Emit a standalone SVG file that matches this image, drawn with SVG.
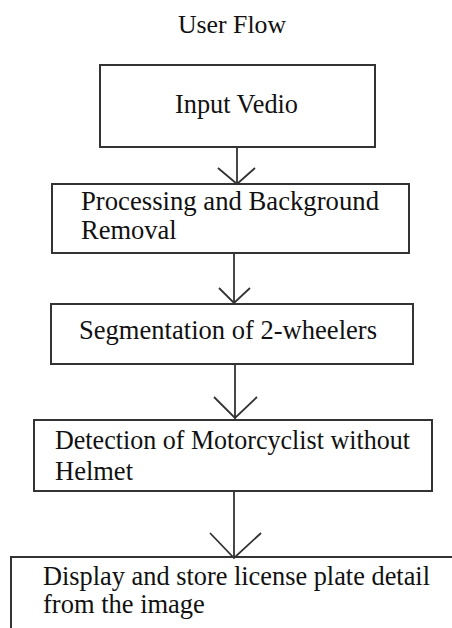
<svg xmlns="http://www.w3.org/2000/svg" width="452" height="628" viewBox="0 0 452 628">
<style>
.box{fill:#fff;stroke:#333;stroke-width:2}
.t{font-family:"Liberation Serif","Times New Roman",serif;font-size:26.5px;fill:#111}
.c{fill:none;stroke:#333;stroke-width:1.8}
</style>
<rect width="452" height="628" fill="#fff"/>
<text class="t" x="232" y="33" text-anchor="middle" textLength="108" lengthAdjust="spacingAndGlyphs" style="font-size:25px">User Flow</text>
<g id="n1"><rect class="box" x="100" y="65" width="275" height="82"/><text class="t" x="236.5" y="113" text-anchor="middle" textLength="123" lengthAdjust="spacingAndGlyphs">Input Vedio</text></g>
<g id="n2"><rect class="box" x="52" y="184" width="357" height="69"/><text class="t" x="81" y="210" textLength="298" lengthAdjust="spacingAndGlyphs">Processing and Background</text><text class="t" x="81" y="239">Removal</text></g>
<g id="n3"><rect class="box" x="51" y="304" width="362" height="60"/><text class="t" x="79" y="339" textLength="298" lengthAdjust="spacingAndGlyphs">Segmentation of 2-wheelers</text></g>
<g id="n4"><rect class="box" x="34" y="420" width="398" height="71"/><text class="t" x="55" y="449" textLength="355" lengthAdjust="spacingAndGlyphs">Detection of Motorcyclist without</text><text class="t" x="55" y="480">Helmet</text></g>
<g id="n5"><rect class="box" x="11" y="557" width="470" height="100"/><text class="t" x="43" y="585" textLength="387" lengthAdjust="spacingAndGlyphs">Display and store license plate detail</text><text class="t" x="43" y="613">from the image</text></g>
<g id="connectors">
<path class="c" d="M237 147V184M218 168L237 184L255 168"/>
<path class="c" d="M234 253V304M219 288L234 303L250 288"/>
<path class="c" d="M235 364V420M214 397L235 418L257 397"/>
<path class="c" d="M234 491V557M210 533L234 558L261 533"/>
</g>
</svg>
